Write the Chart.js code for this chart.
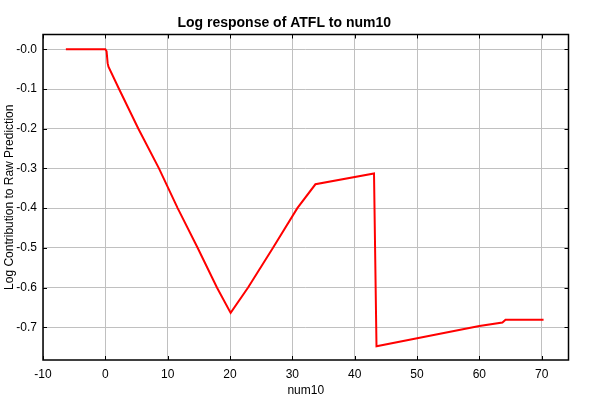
<!DOCTYPE html>
<html>
<head>
<meta charset="utf-8">
<script src="https://cdn.jsdelivr.net/npm/chart.js@4.4.1/dist/chart.umd.min.js"></script>
<style>
  body { margin: 0; background: #fff; }
  canvas { display: block; }
</style>
</head>
<body>
<canvas id="chart" width="600" height="400"></canvas>
<script>
// values
const num10 = [-6.33, 0, 0.2, 0.37, 0.5, 2.2, 5.3, 8.6, 11.6, 14.8, 17.9, 20.1,
  22.9, 26.9, 30.8, 33.7, 43.1, 43.5, 60, 63.7, 64.2, 70.3];
const logContribution = [0, 0, -0.005, -0.035, -0.044, -0.1, -0.2, -0.3, -0.4, -0.5, -0.6, -0.664,
  -0.6, -0.5, -0.4, -0.34, -0.313, -0.748, -0.697, -0.688, -0.681, -0.681];
const xTicks = [-10, 0, 10, 20, 30, 40, 50, 60, 70];
const yTicks = [0, -0.1, -0.2, -0.3, -0.4, -0.5, -0.6, -0.7];
const yTickLabels = ['-0.0', '-0.1', '-0.2', '-0.3', '-0.4', '-0.5', '-0.6', '-0.7'];

const FONT = '"Liberation Sans", Arial, sans-serif';
Chart.defaults.font.family = FONT;
Chart.defaults.color = '#000';

// inner tick marks + black frame round the plot
const frame = {
  id: 'frame',
  afterDraw(chart) {
    const { ctx, chartArea: a } = chart;
    const xs = chart.scales.x, ys = chart.scales.y;
    ctx.save();
    ctx.strokeStyle = '#000';
    ctx.lineWidth = 1;
    ctx.beginPath();
    xTicks.forEach(v => {
      const px = Math.round(xs.getPixelForValue(v)) + 0.5;
      ctx.moveTo(px, a.bottom); ctx.lineTo(px, a.bottom - 4);
      ctx.moveTo(px, a.top); ctx.lineTo(px, a.top + 4);
    });
    yTicks.forEach(v => {
      const py = Math.round(ys.getPixelForValue(v)) + 0.5;
      ctx.moveTo(a.left, py); ctx.lineTo(a.left + 4, py);
      ctx.moveTo(a.right, py); ctx.lineTo(a.right - 4, py);
    });
    ctx.stroke();
    ctx.lineWidth = 1.5;
    ctx.strokeRect(a.left, a.top, a.right - a.left, a.bottom - a.top);
    ctx.restore();
  }
};

new Chart(document.getElementById('chart'), {
  type: 'line',
  data: {
    datasets: [{
      data: num10.map((x, i) => ({ x: x, y: logContribution[i] })),
      borderColor: '#ff0000',
      borderWidth: 2,
      pointRadius: 0,
      tension: 0,
      fill: false
    }]
  },
  options: {
    responsive: false,
    animation: false,
    layout: { padding: { left: 0, right: 31.5, top: 0, bottom: 0 } },
    plugins: {
      legend: { display: false },
      tooltip: { enabled: false },
      title: {
        display: true,
        text: 'Log response of ATFL to num10',
        font: { size: 14, weight: 'bold' },
        color: '#000',
        padding: { top: 14.6, bottom: 3.1 }
      }
    },
    scales: {
      x: {
        type: 'linear',
        min: -10,
        max: 74.3,
        afterBuildTicks: s => { s.ticks = xTicks.map(v => ({ value: v })); },
        afterFit: s => { s.height = 40; },
        ticks: { font: { size: 12 }, padding: 7, maxRotation: 0 },
        grid: { color: '#c0c0c0', drawTicks: false },
        border: { display: false },
        title: { display: true, text: 'num10', font: { size: 12 }, padding: { top: 0, bottom: 1.8 } }
      },
      y: {
        type: 'linear',
        min: -0.7826,
        max: 0.0373,
        afterBuildTicks: s => { s.ticks = yTicks.map(v => ({ value: v })); },
        afterFit: s => { s.width = 43; },
        ticks: {
          font: { size: 12 },
          padding: 6,
          callback: (v) => yTickLabels[yTicks.findIndex(t => Math.abs(t - v) < 1e-9)]
        },
        grid: { color: '#c0c0c0', drawTicks: false },
        border: { display: false },
        title: {
          display: true,
          text: 'Log Contribution to Raw Prediction',
          font: { size: 12 },
          padding: { top: 2.8, bottom: 0 }
        }
      }
    }
  },
  plugins: [frame]
});
</script>
</body>
</html>
